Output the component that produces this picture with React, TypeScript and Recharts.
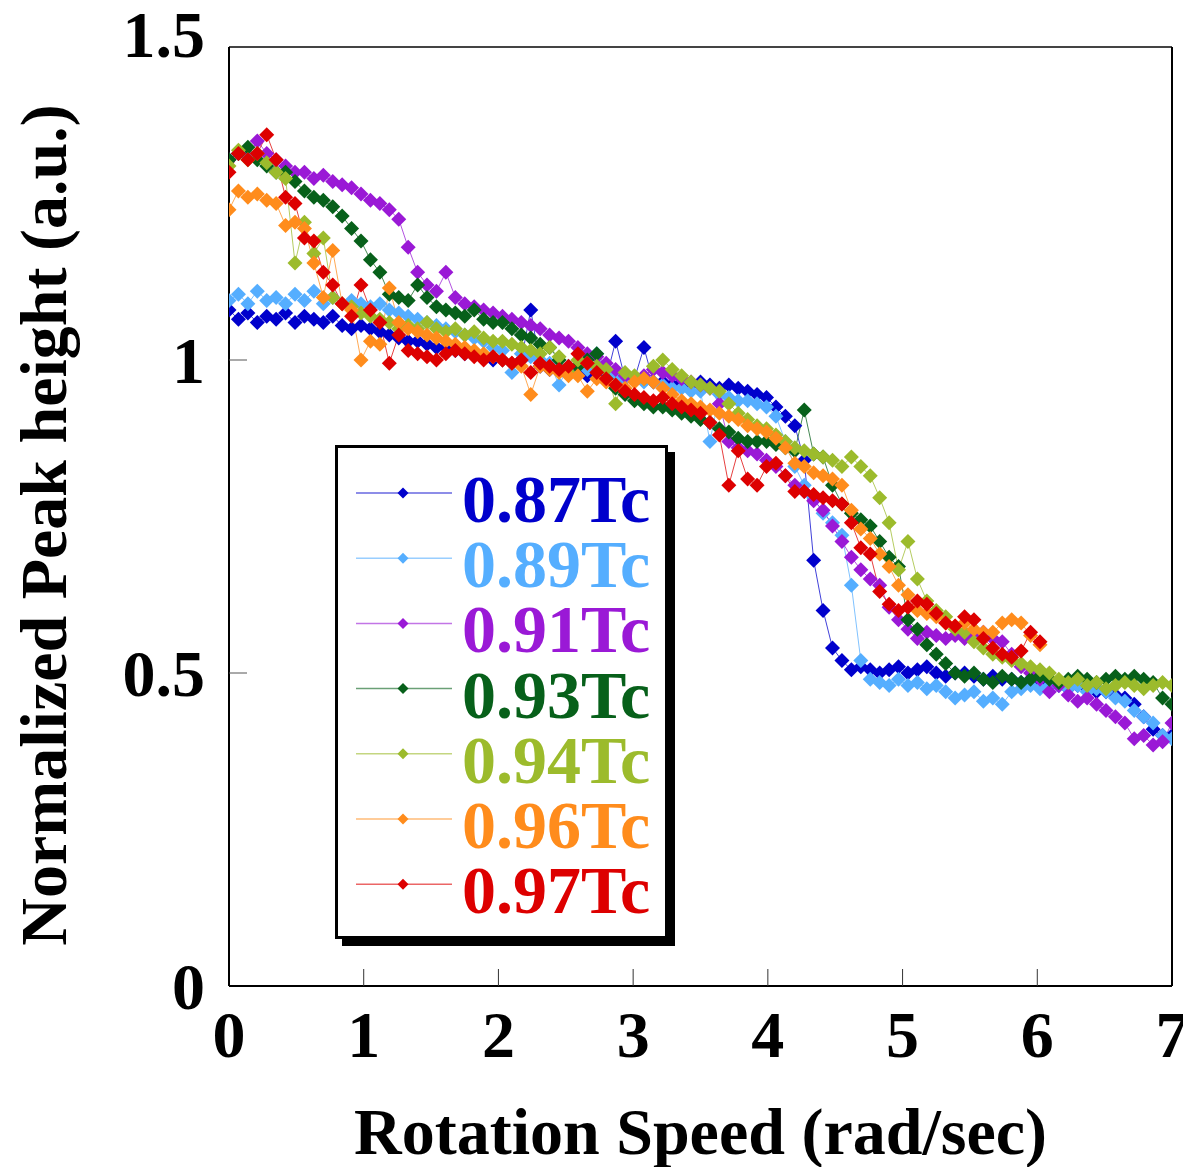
import React from "react";
import { LineChart, Line, XAxis, YAxis, Legend, Label } from "recharts";

// rotation speed (rad/sec), shared sample positions
const SPEED = [
  0, 0.07, 0.14, 0.21, 0.28, 0.35, 0.42, 0.49, 0.56, 0.63, 0.7, 0.77, 0.84, 0.91, 0.98,
  1.05, 1.12, 1.19, 1.26, 1.33, 1.4, 1.47, 1.54, 1.61, 1.68, 1.75, 1.82, 1.89, 1.96,
  2.03, 2.1, 2.17, 2.24, 2.31, 2.38, 2.45, 2.52, 2.59, 2.66, 2.73, 2.8, 2.87, 2.94,
  3.01, 3.08, 3.15, 3.22, 3.29, 3.36, 3.43, 3.5, 3.57, 3.64, 3.71, 3.78, 3.85, 3.92, 3.99,
  4.06, 4.13, 4.2, 4.27, 4.34, 4.41, 4.48, 4.55, 4.62,
  4.69, 4.76, 4.83, 4.9, 4.97, 5.04, 5.11, 5.18, 5.25, 5.32, 5.39, 5.46, 5.53, 5.6, 5.67,
  5.74, 5.81, 5.88, 5.95, 6.02, 6.09, 6.16, 6.23, 6.3, 6.37, 6.44, 6.51, 6.58, 6.65, 6.72,
  6.79, 6.86, 6.93, 7.0,
];

const T087 = [
  1.08, 1.065, 1.075, 1.06, 1.07, 1.065, 1.075, 1.06, 1.07, 1.065, 1.06, 1.07, 1.055, 1.05, 1.055,
  1.05, 1.045, 1.04, 1.035, 1.03, 1.03, 1.025, 1.02, 1.02, 1.015, 1.01, 1.01, 1.005, 1.0,
  1.0, 0.995, 1.0, 1.08, 0.99, 0.985, 0.985, 0.98, 0.98, 0.975, 0.975, 0.97, 1.03, 0.97,
  0.97, 1.02, 0.965, 0.965, 0.96, 0.965, 0.96, 0.965, 0.96, 0.955, 0.96, 0.955, 0.95, 0.945, 0.94,
  0.925, 0.91, 0.895, 0.84, 0.68, 0.6, 0.54, 0.52, 0.505,
  0.51, 0.505, 0.5, 0.505, 0.51, 0.5, 0.505, 0.51, 0.5, 0.495, 0.5, 0.5, 0.495, 0.49, 0.495,
  0.49, 0.49, 0.485, 0.49, 0.485, 0.48, 0.48, 0.475, 0.48, 0.475, 0.47, 0.47, 0.465, 0.46, 0.45,
  0.43, 0.41, 0.4, 0.4,
];

const T089 = [
  1.095, 1.105, 1.09, 1.11, 1.095, 1.1, 1.09, 1.105, 1.095, 1.11, 1.09, 1.1, 1.09, 1.095, 1.09,
  1.085, 1.09, 1.08, 1.075, 1.07, 1.065, 1.06, 1.055, 1.05, 1.045, 1.04, 1.035, 1.03, 1.02,
  1.015, 0.98, 1.01, 1.005, 1.0, 0.995, 0.96, 0.99, 0.99, 0.985, 1.01, 0.98, 0.975, 0.97,
  0.97, 0.965, 0.965, 0.96, 0.955, 0.955, 0.95, 0.95, 0.87, 0.945, 0.94, 0.935, 0.935, 0.93, 0.925,
  0.91, 0.87, 0.83, 0.8, 0.78, 0.755, 0.74, 0.72, 0.64,
  0.52, 0.49, 0.485, 0.48, 0.49, 0.48, 0.485, 0.475, 0.48, 0.47, 0.46, 0.465, 0.47, 0.455, 0.46,
  0.45, 0.47, 0.475, 0.48, 0.475, 0.48, 0.48, 0.475, 0.48, 0.47, 0.475, 0.47, 0.46, 0.455, 0.44,
  0.43, 0.42, 0.4, 0.395,
];

const T091 = [
  1.32, 1.33, 1.325, 1.35, 1.33, 1.32, 1.31, 1.3, 1.3, 1.29, 1.295, 1.285, 1.28, 1.275, 1.265,
  1.255, 1.25, 1.24, 1.225, 1.18, 1.14, 1.12, 1.11, 1.14, 1.1, 1.09, 1.085, 1.08, 1.075,
  1.07, 1.065, 1.06, 1.055, 1.05, 1.04, 1.035, 1.03, 1.02, 1.01, 1.005, 0.995, 0.985, 0.975,
  0.97, 0.975, 0.985, 0.98, 0.975, 0.97, 0.965, 0.96, 0.955, 0.93, 0.87, 0.86, 0.855, 0.85, 0.84,
  0.83, 0.815, 0.8, 0.79, 0.775, 0.76, 0.735, 0.71, 0.685,
  0.665, 0.65, 0.64, 0.605, 0.585, 0.57, 0.555, 0.565, 0.56, 0.555, 0.56, 0.555, 0.56, 0.565, 0.555,
  0.55, 0.53, 0.51, 0.5, 0.49, 0.47, 0.48, 0.465, 0.455, 0.46, 0.45, 0.44, 0.43, 0.42, 0.395,
  0.4, 0.385, 0.39, 0.42,
];

const T093 = [
  1.32, 1.33, 1.34, 1.32, 1.31, 1.3, 1.3, 1.285, 1.27, 1.26, 1.255, 1.245, 1.23, 1.21, 1.19,
  1.16, 1.14, 1.105, 1.1, 1.095, 1.12, 1.1, 1.085, 1.08, 1.075, 1.07, 1.08, 1.065, 1.06,
  1.06, 1.05, 1.04, 1.035, 1.025, 1.02, 1.0, 0.98, 0.99, 1.0, 1.01, 0.97, 0.955, 0.945,
  0.935, 0.93, 0.925, 0.925, 0.92, 0.915, 0.91, 0.905, 0.9, 0.89, 0.885, 0.875, 0.87, 0.87, 0.87,
  0.865, 0.86, 0.855, 0.92, 0.85, 0.845, 0.8, 0.77, 0.755,
  0.745, 0.735, 0.71, 0.685, 0.67, 0.585, 0.57, 0.545, 0.53, 0.515, 0.5, 0.495, 0.5, 0.49, 0.485,
  0.495, 0.49, 0.485, 0.49, 0.495, 0.49, 0.485, 0.49, 0.495, 0.49, 0.485, 0.49, 0.495, 0.49, 0.495,
  0.49, 0.485, 0.46, 0.45,
];

const T094 = [
  1.31, 1.335, 1.32, 1.33, 1.315, 1.3, 1.29, 1.155, 1.22, 1.17, 1.195, 1.1, 1.09, 1.085, 1.075,
  1.07, 1.065, 1.06, 1.05, 1.055, 1.05, 1.06, 1.05, 1.045, 1.05, 1.04, 1.045, 1.035, 1.03,
  1.03, 1.025, 1.02, 1.015, 1.01, 1.02, 1.005, 0.98, 1.0, 0.995, 0.99, 0.985, 0.93, 0.98,
  0.975, 0.97, 0.99, 1.0, 0.985, 0.975, 0.965, 0.96, 0.955, 0.95, 0.93, 0.915, 0.905, 0.895, 0.89,
  0.88, 0.87, 0.86, 0.855, 0.85, 0.845, 0.84, 0.83, 0.845,
  0.83, 0.815, 0.78, 0.74, 0.665, 0.71, 0.65, 0.615, 0.6, 0.59, 0.57, 0.565, 0.55, 0.54, 0.53,
  0.525, 0.52, 0.515, 0.51, 0.505, 0.5, 0.49, 0.485, 0.49, 0.48, 0.485, 0.475, 0.48, 0.485, 0.48,
  0.475, 0.48, 0.485, 0.48,
];

const T096 = [
  1.24, 1.27, 1.26, 1.265, 1.255, 1.25, 1.215, 1.22, 1.21, 1.155, 1.1, 1.175, 1.09, 1.08, 1.0,
  1.03, 1.025, 1.115, 1.06, 1.05, 1.045, 1.04, 1.035, 1.03, 1.025, 1.02, 1.015, 1.01, 1.005,
  1.0, 0.995, 0.99, 0.945, 0.99, 0.985, 0.98, 0.975, 0.975, 0.95, 0.97, 0.965, 0.96, 0.955,
  0.965, 0.97, 0.965, 0.955, 0.945, 0.935, 0.93, 0.925, 0.92, 0.915, 0.91, 0.905, 0.895, 0.89, 0.885,
  0.875, 0.86, 0.835, 0.83, 0.82, 0.815, 0.81, 0.8, 0.76,
  0.73, 0.715, 0.69, 0.67, 0.64, 0.625, 0.6, 0.595, 0.59, 0.58, 0.575, 0.58, 0.57, 0.565, 0.565,
  0.58, 0.585, 0.58, 0.56, 0.545,
];

const T097 = [
  1.3, 1.33, 1.32, 1.33, 1.36, 1.32, 1.26, 1.25, 1.195, 1.19, 1.14, 1.12, 1.09, 1.07, 1.12,
  1.08, 1.06, 0.995, 1.04, 1.015, 1.01, 1.005, 1.0, 1.01, 1.015, 1.01, 1.005, 1.0, 1.005,
  1.0, 0.995, 1.0, 0.98, 0.995, 0.99, 0.985, 0.99, 1.01, 0.995, 0.98, 0.97, 0.96, 0.95,
  0.945, 0.94, 0.935, 0.94, 0.93, 0.925, 0.92, 0.915, 0.9, 0.88, 0.8, 0.855, 0.81, 0.8, 0.83,
  0.835, 0.815, 0.79, 0.79, 0.785, 0.78, 0.775, 0.77, 0.74,
  0.7, 0.69, 0.63, 0.61, 0.6, 0.605, 0.615, 0.61, 0.595, 0.58, 0.575, 0.59, 0.585, 0.555, 0.54,
  0.53, 0.525, 0.535, 0.565, 0.55,
];

const SERIES = [
  { name: "0.87Tc", color: "#0000CC", values: T087 },
  { name: "0.89Tc", color: "#55AEFF", values: T089 },
  { name: "0.91Tc", color: "#9A19D6", values: T091 },
  { name: "0.93Tc", color: "#07601A", values: T093 },
  { name: "0.94Tc", color: "#9CBB2C", values: T094 },
  { name: "0.96Tc", color: "#FF8C1C", values: T096 },
  { name: "0.97Tc", color: "#DD0000", values: T097 },
];

const X_TICKS = [0, 1, 2, 3, 4, 5, 6, 7];
const Y_TICKS = [0, 0.5, 1, 1.5];

const FONT = '"Liberation Serif", "Times New Roman", serif';

const toPoints = (values: number[]) =>
  values.map((v, i) => ({ x: SPEED[i], y: v }));

// diamond marker
const diamond = (color: string, r: number) => (props: any) => {
  const { cx, cy, index } = props;
  if (cx == null || cy == null) return <g key={`d-${index}`} />;
  return (
    <path
      key={`d-${index}`}
      d={`M${cx},${cy - r}L${cx + r},${cy}L${cx},${cy + r}L${cx - r},${cy}Z`}
      fill={color}
    />
  );
};

const XTick = ({ x, y, payload }: any) => {
  const v = payload.value;
  return (
    <g>
      {v > 0 && v < 7 && <line x1={x} x2={x} y1={y} y2={y - 17} stroke="#333" strokeWidth={1} />}
      <text x={x} y={y + 71} textAnchor="middle" fontFamily={FONT} fontWeight="bold" fontSize={66} fill="#000">
        {v}
      </text>
    </g>
  );
};

const YTick = ({ x, y, payload }: any) => {
  const v = payload.value;
  return (
    <g>
      {v > 0 && v < 1.5 && <line x1={x} x2={x + 18} y1={y} y2={y} stroke="#555" strokeWidth={1} />}
      <text x={x - 24} y={v === 1.5 ? y + 10 : y + 23} textAnchor="end" fontFamily={FONT} fontWeight="bold" fontSize={66} fill="#000">
        {v}
      </text>
    </g>
  );
};

const RightTick = ({ x, y, payload }: any) => {
  const v = payload.value;
  if (v <= 0 || v >= 1.5) return <g />;
  return <line x1={x} x2={x - 18} y1={y} y2={y} stroke="#555" strokeWidth={1} />;
};

const renderLegend = () => (
  <div
    style={{
      width: 327,
      height: 488,
      border: "3px solid #000",
      background: "#fff",
      boxShadow: "7px 7px 0 #000",
    }}
  >
    <svg width={327} height={488} style={{ display: "block" }}>
      {SERIES.map((s, i) => {
        const cy = 45 + i * 65.2;
        return (
          <g key={s.name}>
            <line x1={18} x2={114} y1={cy} y2={cy} stroke={s.color} strokeOpacity={0.6} strokeWidth={1.5} />
            <path d={`M65,${cy - 5.5}L70.5,${cy}L65,${cy + 5.5}L59.5,${cy}Z`} fill={s.color} />
            <text x={124} y={cy + 29} fontFamily={FONT} fontWeight="bold" fontSize={68} fill={s.color}>
              {s.name}
            </text>
          </g>
        );
      })}
    </svg>
  </div>
);

export default function App() {
  return (
    <div style={{ position: "absolute", left: 0, top: 0, width: 1183, height: 1167, background: "#fff" }}>
      <LineChart width={1183} height={1167} margin={{ top: 0, right: 0, bottom: 0, left: 0 }}>
        <XAxis
          type="number"
          dataKey="x"
          domain={[0, 7]}
          ticks={X_TICKS}
          height={181}
          tickSize={0}
          tickMargin={0}
          tick={<XTick />}
          axisLine={{ stroke: "#000", strokeWidth: 2 }}
          tickLine={false}
          allowDataOverflow
        >
          <Label
            value="Rotation Speed (rad/sec)"
            position="insideBottom"
            offset={13}
            fontFamily={FONT}
            fontWeight="bold"
            fontSize={66}
            fill="#000"
          />
        </XAxis>
        <XAxis
          xAxisId="top"
          orientation="top"
          type="number"
          domain={[0, 7]}
          height={47}
          tick={false}
          tickLine={false}
          axisLine={{ stroke: "#444", strokeWidth: 2 }}
        />
        <YAxis
          type="number"
          domain={[0, 1.5]}
          ticks={Y_TICKS}
          width={229}
          tickSize={0}
          tickMargin={0}
          tick={<YTick />}
          tickLine={false}
          axisLine={{ stroke: "#000", strokeWidth: 2 }}
        >
          <Label
            content={() => (
              <text
                x={66}
                y={525}
                transform="rotate(-90 66 525)"
                textAnchor="middle"
                fontFamily={FONT}
                fontWeight="bold"
                fontSize={66}
                fill="#000"
              >
                Normalized Peak height (a.u.)
              </text>
            )}
          />
        </YAxis>
        <YAxis
          yAxisId="right"
          orientation="right"
          type="number"
          domain={[0, 1.5]}
          ticks={Y_TICKS}
          width={11}
          tickSize={0}
          tickMargin={0}
          tick={<RightTick />}
          tickLine={false}
          axisLine={{ stroke: "#000", strokeWidth: 2 }}
        />
        <Legend
          content={renderLegend}
          layout="vertical"
          align="center"
          verticalAlign="middle"
          wrapperStyle={{ left: 335, top: 445, width: 340 }}
        />
        {SERIES.map((s) => (
          <Line
            key={s.name}
            data={toPoints(s.values)}
            dataKey="y"
            name={s.name}
            type="linear"
            stroke={s.color}
            strokeWidth={1}
            strokeOpacity={0.75}
            dot={diamond(s.color, 7.5)}
            activeDot={false}
            isAnimationActive={false}
          />
        ))}
      </LineChart>
    </div>
  );
}
